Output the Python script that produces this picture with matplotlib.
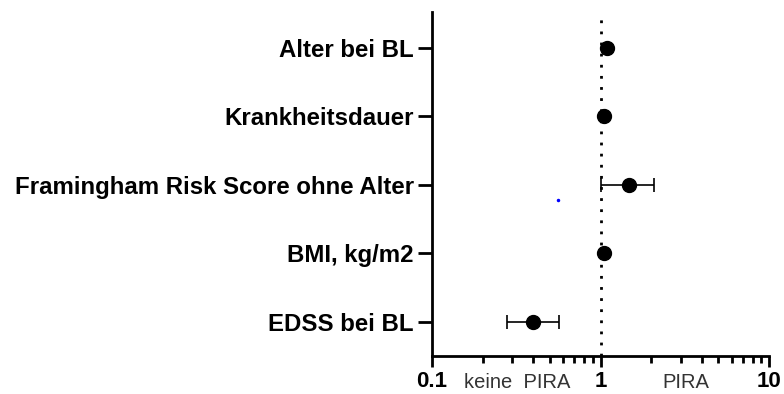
import numpy as np
import matplotlib.pyplot as plt
from matplotlib.ticker import LogLocator, NullFormatter, FixedLocator, FixedFormatter

plt.rcParams['font.family'] = ['Liberation Sans', 'DejaVu Sans']

# Data (odds ratios with 95% CI)
labels = ['Alter bei BL', 'Krankheitsdauer', 'Framingham Risk Score ohne Alter',
          'BMI, kg/m2', 'EDSS bei BL']
odds = [1.09, 1.05, 1.47, 1.05, 0.40]
ci_low = [1.09, 1.05, 1.01, 1.05, 0.277]
ci_high = [1.09, 1.05, 2.07, 1.05, 0.57]
stray_x = [0.556]
stray_y = [2.23]

fig = plt.figure(figsize=(7.84, 3.94), dpi=100)
ax = fig.add_axes([0.551, 0.0964, 0.43, 0.873])

y = np.arange(len(labels))
xerr = [np.array(odds) - np.array(ci_low), np.array(ci_high) - np.array(odds)]
ax.errorbar(odds, y, xerr=xerr, fmt='o', color='black', markersize=10,
            elinewidth=1.2, capsize=5, capthick=1.2, zorder=3)
ax.plot(stray_x, stray_y, 'o', color='blue', markersize=1.5)

ax.axvline(1, color='black', linestyle=(0, (1, 3)), linewidth=2, zorder=1)

ax.set_xscale('log')
ax.set_xlim(0.1, 10)
ax.set_ylim(4.5, -0.52)

ax.xaxis.set_major_locator(FixedLocator([0.1, 1, 10]))
ax.xaxis.set_major_formatter(FixedFormatter(['0.1', '1', '10']))
ax.xaxis.set_minor_locator(LogLocator(base=10, subs=np.arange(2, 10)))
ax.xaxis.set_minor_formatter(NullFormatter())

ax.set_yticks(y)
ax.set_yticklabels(labels, fontsize=17.3, fontweight='bold')
for lab in ax.get_xticklabels():
    lab.set_fontsize(16)
    lab.set_fontweight('bold')

for s in ['top', 'right']:
    ax.spines[s].set_visible(False)
for s in ['left', 'bottom']:
    ax.spines[s].set_linewidth(2)

ax.tick_params(axis='y', length=10, width=2, pad=3)
ax.tick_params(axis='x', which='major', length=8, width=2, pad=3)
ax.tick_params(axis='x', which='minor', length=5, width=2)

ax.text(0.32, -0.078, 'keine  PIRA', transform=ax.get_xaxis_transform(),
        ha='center', va='center', fontsize=14.5, color='#333333')
ax.text(3.2, -0.078, 'PIRA', transform=ax.get_xaxis_transform(),
        ha='center', va='center', fontsize=14.5, color='#333333')

fig.savefig('out.png', dpi=100)
